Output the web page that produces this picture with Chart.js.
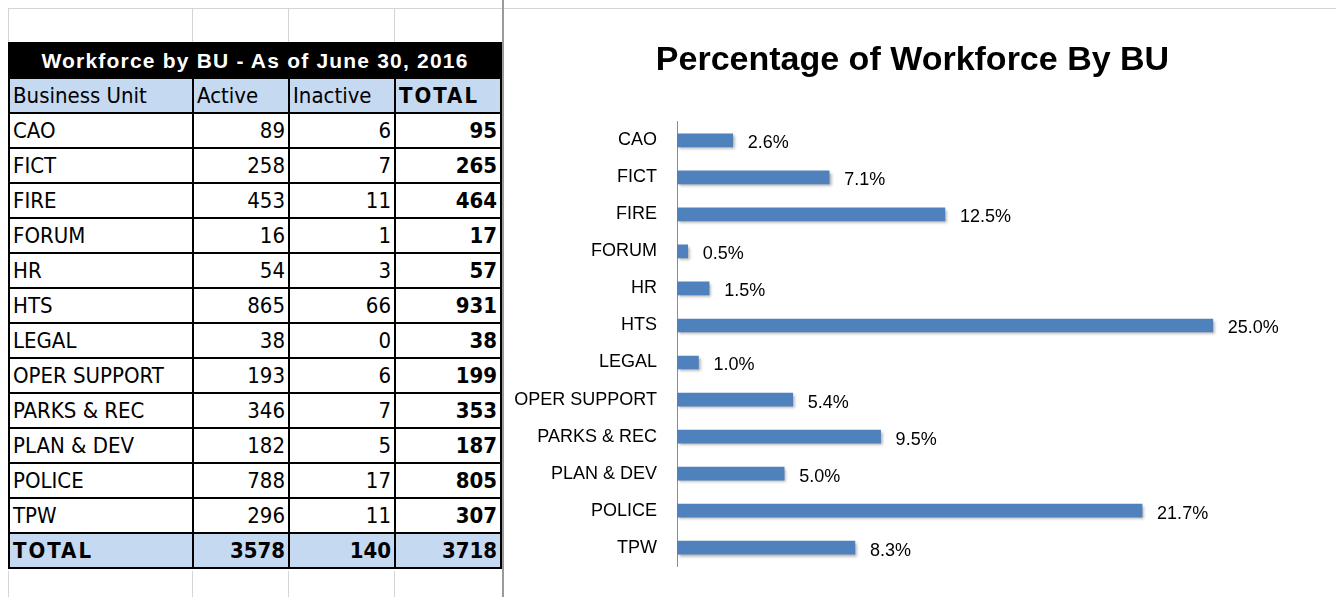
<!DOCTYPE html>
<html>
<head>
<meta charset="utf-8">
<title>Workforce by BU</title>
<script src="https://cdn.jsdelivr.net/npm/chart.js@4.4.1/dist/chart.umd.min.js"></script>
<style>
  html, body { margin: 0; padding: 0; background: #fff; }
  #page { position: relative; width: 1336px; height: 597px; overflow: hidden; }
  .grid-v { position: absolute; width: 1px; background: #d4d4d4; }
  .grid-h { position: absolute; height: 1px; background: #d4d4d4; }
  #sep { position: absolute; left: 502px; top: 0; width: 2px; height: 597px; background: #9a9a9a; }
  #wf {
    position: absolute; left: 8px; top: 42px;
    border-collapse: collapse; table-layout: fixed;
    font-family: "Liberation Sans Narrow", "Arial Narrow", "DejaVu Sans Condensed", sans-serif;
    font-size: 22px; color: #000;
  }
  #wf td { border: 2px solid #000; height: 33px; padding: 0 3px; line-height: 33px; white-space: nowrap; overflow: hidden; }
  #wf td.num { text-align: right; }
  #wf td.b { font-weight: bold; }
  #wf tr.title td {
    background: #000; color: #fff; font-weight: bold; text-align: center; padding: 0;
    font-family: "Liberation Sans", Arial, sans-serif; font-size: 21px; letter-spacing: 1.2px;
  }
  #wf tr.head td, #wf tr.tot td { background: #c5d9f1; }
  #wf .sp { letter-spacing: 2px; font-weight: bold; }
  #chartBox { position: absolute; left: 505px; top: 0; width: 831px; height: 597px; }
</style>
</head>
<body>
<div id="page">
  <div class="grid-h" style="left:8px; top:8px; width:1328px;"></div>
  <div class="grid-v" style="left:8px; top:8px; height:34px;"></div>
  <div class="grid-v" style="left:192px; top:8px; height:34px;"></div>
  <div class="grid-v" style="left:288px; top:8px; height:34px;"></div>
  <div class="grid-v" style="left:394px; top:8px; height:34px;"></div>
  <div class="grid-v" style="left:8px; top:571px; height:26px;"></div>
  <div class="grid-v" style="left:192px; top:571px; height:26px;"></div>
  <div class="grid-v" style="left:288px; top:571px; height:26px;"></div>
  <div class="grid-v" style="left:394px; top:571px; height:26px;"></div>
  <div id="sep"></div>

  <table id="wf">
    <colgroup>
      <col style="width:184px"><col style="width:96px"><col style="width:106px"><col style="width:106px">
    </colgroup>
    <tbody id="wfBody"></tbody>
  </table>

  <div id="chartBox"><canvas id="buChart"></canvas></div>
</div>

<script>
// Data tabel
const units = ['CAO', 'FICT', 'FIRE', 'FORUM', 'HR', 'HTS', 'LEGAL', 'OPER SUPPORT', 'PARKS & REC', 'PLAN & DEV', 'POLICE', 'TPW'];
const active = [89, 258, 453, 16, 54, 865, 38, 193, 346, 182, 788, 296];
const inactive = [6, 7, 11, 1, 3, 66, 0, 6, 7, 5, 17, 11];
const totals = [95, 265, 464, 17, 57, 931, 38, 199, 353, 187, 805, 307];
const grandTotal = [3578, 140, 3718];

// Persentase per BU (dari grafik)
const percentages = [2.6, 7.1, 12.5, 0.5, 1.5, 25.0, 1.0, 5.4, 9.5, 5.0, 21.7, 8.3];

// Isi tabel
const body = document.getElementById('wfBody');
let html = '<tr class="title"><td colspan="4">Workforce by BU - As of June 30, 2016</td></tr>';
html += '<tr class="head"><td>Business Unit</td><td>Active</td><td>Inactive</td><td><span class="sp">TOTAL</span></td></tr>';
units.forEach((u, i) => {
    html += '<tr><td>' + u.replace('&', '&amp;') + '</td><td class="num">' + active[i] +
        '</td><td class="num">' + inactive[i] + '</td><td class="num b">' + totals[i] + '</td></tr>';
});
html += '<tr class="tot"><td><span class="sp">TOTAL</span></td><td class="num b">' + grandTotal[0] +
    '</td><td class="num b">' + grandTotal[1] + '</td><td class="num b">' + grandTotal[2] + '</td></tr>';
body.innerHTML = html;

// Plugin bayangan batang + label nilai
const barExtras = {
    id: 'barExtras',
    beforeDatasetsDraw(chart) {
        const ctx = chart.ctx;
        ctx.save();
        ctx.shadowColor = 'rgba(0,0,0,0.35)';
        ctx.shadowBlur = 3;
        ctx.shadowOffsetX = 2;
        ctx.shadowOffsetY = 2;
    },
    afterDatasetsDraw(chart) {
        const ctx = chart.ctx;
        ctx.restore();
        const meta = chart.getDatasetMeta(0);
        ctx.save();
        ctx.font = '18px "Liberation Sans", Arial, sans-serif';
        ctx.fillStyle = '#000';
        ctx.textBaseline = 'middle';
        ctx.textAlign = 'left';
        meta.data.forEach((bar, i) => {
            ctx.fillText(percentages[i].toFixed(1) + '%', bar.x + 15, bar.y + 3);
        });
        ctx.restore();
    }
};

const buCtx = document.getElementById('buChart').getContext('2d');
new Chart(buCtx, {
    type: 'bar',
    data: {
        labels: units,
        datasets: [{
            label: 'Percentage of Workforce',
            data: percentages,
            backgroundColor: '#4f81bd',
            borderWidth: 0,
            barThickness: 13
        }]
    },
    options: {
        indexAxis: 'y',
        responsive: true,
        maintainAspectRatio: false,
        animation: false,
        layout: { padding: { left: 0, right: 16, top: 0, bottom: 25 } },
        plugins: {
            legend: { display: false },
            tooltip: { enabled: false },
            title: {
                display: true,
                text: 'Percentage of Workforce By BU',
                color: '#000',
                font: { family: '"Liberation Sans", Arial, sans-serif', size: 34, weight: 'bold' },
                padding: { top: 40, bottom: 41 }
            }
        },
        scales: {
            x: { display: false, min: 0, max: 30 },
            y: {
                grid: { display: false, drawTicks: false },
                border: { display: true, color: '#8c8c8c', width: 1 },
                ticks: {
                    color: '#000',
                    padding: 20,
                    font: { family: '"Liberation Sans", Arial, sans-serif', size: 18 }
                },
                afterFit(scale) { scale.width = 172; }
            }
        }
    },
    plugins: [barExtras]
});
</script>
</body>
</html>
